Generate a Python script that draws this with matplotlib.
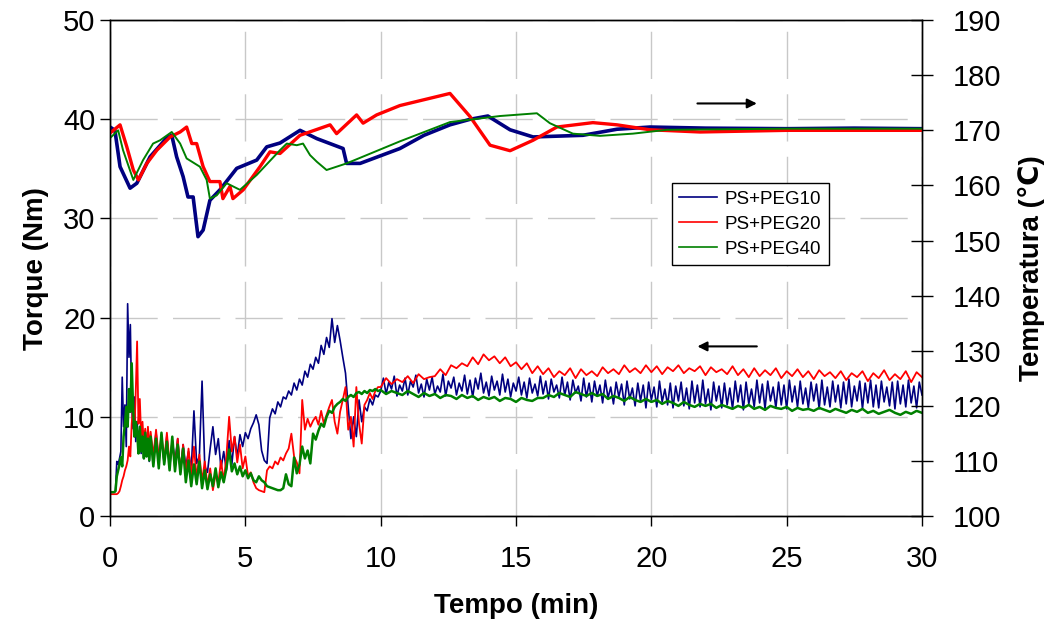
import numpy as np
import matplotlib
matplotlib.use("Agg")
from matplotlib import pyplot as plt

plt.rcParams["font.family"] = ["Liberation Sans", "DejaVu Sans"]

# ---- torque data (left axis), sampled on time grids ----
t_early = np.round(np.arange(0.0, 1.5, 0.05), 2)        # 0.00 .. 1.45
t_mid = np.round(np.arange(1.5, 9.95, 0.1), 2)          # 1.5 .. 9.9
t_late = np.round(np.arange(10.0, 30.01, 0.2), 2)       # 10.0 .. 30.0
t_late_fine = np.round(np.arange(10.0, 30.01, 0.1), 2)  # 10.0 .. 30.0 (PEG10 is noisier)

torque_peg10 = [
    2.4, 2.4, 2.4, 2.4, 2.5, 5.5, 5.2, 5.8, 6.5, 14.0,
    9.0, 11.2, 7.0, 21.4, 16.0, 19.3, 11.0, 8.8, 12.0, 7.5,
    9.5, 6.8, 8.9, 6.3, 8.5, 5.8, 8.6, 6.0, 8.2, 5.5,
    # 1.5 - 9.9
    8.0, 6.0, 8.4, 5.6, 7.9, 5.2, 8.1, 4.8, 7.6, 5.5,
    7.8, 4.4, 7.2, 5.0, 6.5, 4.6, 10.6, 5.3, 6.0, 13.6,
    5.0, 4.4, 6.8, 9.0, 6.2, 7.8, 4.8, 6.5, 4.6, 7.6,
    5.2, 8.0, 6.0, 8.2, 7.0, 8.4, 7.8, 8.8, 9.4, 10.2,
    9.2, 6.6, 5.6, 5.3, 9.9, 10.8, 10.3, 11.5, 11.0, 12.0,
    11.8, 12.6, 12.2, 13.4, 12.7, 13.8, 13.2, 14.6, 14.0, 15.3,
    14.8, 16.0, 15.4, 17.2, 16.3, 18.0, 17.0, 19.9, 17.5, 19.2,
    17.7, 16.0, 14.4, 11.0, 7.8, 10.0, 8.0, 11.7, 9.5, 11.0,
    10.6, 11.8, 11.2, 12.2, 12.0,
    # 10.0 - 30.0 (step 0.1)
    12.6, 13.9, 12.3, 13.5, 12.8, 14.1, 12.1, 13.2, 12.6, 13.9,
    12.2, 13.6, 13.0, 14.2, 12.4, 13.3, 12.0, 13.8, 12.7, 14.0,
    12.3, 13.1, 12.5, 14.3, 12.1, 13.6, 12.9, 14.0, 12.2, 13.4,
    12.6, 14.2, 12.3, 13.7, 12.0, 13.9, 12.8, 14.4, 12.4, 13.5,
    12.1, 14.1, 12.7, 13.6, 12.2, 14.3, 12.5, 13.8, 12.0, 13.4,
    12.6, 14.0, 12.2, 13.5, 11.9, 13.9, 12.4, 13.3, 12.1, 14.1,
    12.3, 13.6, 11.8, 13.8, 12.5, 13.2, 11.9, 14.0, 12.2, 13.5,
    11.7, 13.7, 12.4, 13.1, 11.6, 13.9, 12.0, 13.4, 11.5, 13.6,
    12.1, 13.2, 11.4, 13.7, 11.9, 13.0, 11.3, 13.5, 12.0, 13.3,
    11.2, 13.6, 11.8, 12.9, 11.1, 13.4, 11.6, 13.2, 10.9, 13.5,
    11.7, 13.0, 11.0, 13.6, 11.5, 12.8, 11.2, 13.4, 10.9, 13.1,
    11.6, 13.5, 11.1, 12.9, 10.8, 13.6, 11.4, 13.2, 11.0, 13.7,
    11.3, 12.8, 10.7, 13.5, 11.6, 13.1, 10.9, 13.4, 11.2, 12.9,
    10.8, 13.6, 11.5, 13.2, 10.7, 13.5, 11.3, 12.8, 11.0, 13.7,
    11.4, 13.3, 10.8, 13.6, 11.6, 13.0, 10.9, 13.5, 11.2, 13.2,
    10.8, 13.7, 11.5, 13.1, 11.0, 13.6, 11.3, 12.9, 10.9, 13.5,
    11.6, 13.3, 10.8, 13.7, 11.2, 13.0, 11.0, 13.6, 11.5, 13.2,
    10.9, 13.5, 11.3, 13.8, 11.0, 13.1, 11.6, 13.6, 10.8, 13.4,
    11.4, 13.7, 11.0, 13.2, 10.9, 13.6, 11.5, 13.0, 11.1, 13.5,
    10.8, 13.6, 11.3, 13.2, 11.0, 13.7, 11.4, 13.1, 10.9, 13.5,
    12.2,
]

torque_peg20 = [
    2.2, 2.2, 2.2, 2.2, 2.2, 2.2, 2.3, 2.5, 3.0, 3.6,
    4.0, 4.6, 5.0, 5.6, 7.0, 6.0, 9.3, 11.0, 8.5, 12.5,
    17.6, 9.3, 11.8, 8.0, 9.5, 7.2, 8.8, 6.5, 9.0, 6.8,
    # 1.5 - 9.9
    8.5, 6.0, 8.7, 5.8, 8.2, 5.5, 8.4, 5.2, 7.6, 4.8,
    7.8, 4.5, 7.2, 4.2, 6.8, 4.0, 7.0, 3.8, 6.2, 3.5,
    5.5, 3.0, 4.8, 2.6, 4.2, 3.3, 5.6, 3.5, 6.0, 10.0,
    6.5, 8.0, 5.4, 7.2, 4.8, 6.0, 4.0, 4.4, 3.4, 2.8,
    2.6, 2.5, 2.4, 4.6, 5.0, 4.8, 5.5, 5.2, 5.9, 5.6,
    6.3, 6.8, 8.3, 6.0, 5.4, 4.3, 11.7, 8.7, 9.8, 9.0,
    9.6, 10.0, 9.2, 10.6, 9.3, 10.2, 11.0, 11.7, 9.5, 8.3,
    10.5, 11.7, 13.0, 8.7, 10.0, 7.0, 13.0, 9.3, 7.3, 11.2,
    11.7, 12.4, 11.8, 12.6, 13.0,
    # 10.0 - 30.0 (step 0.2)
    13.0, 13.9, 13.3, 13.8, 13.5, 14.1, 13.4, 14.3, 13.8, 14.0,
    14.1, 14.8, 14.2, 15.2, 14.9, 15.4, 15.1, 16.0, 15.3, 16.3,
    15.7, 16.1, 15.4, 16.0, 15.1, 15.5, 14.8, 15.4, 14.4, 15.1,
    14.3, 14.9, 14.0, 14.6, 14.2, 14.9, 13.9, 14.8, 14.2, 14.6,
    14.1, 15.0, 14.4, 14.8, 14.3, 15.2, 14.5, 14.9, 14.4, 15.2,
    14.5, 15.1, 14.3, 15.0, 14.6, 15.2, 14.4, 14.9, 14.6, 15.1,
    14.2, 15.0, 14.5, 14.8, 14.3, 15.1, 14.2, 14.8, 14.0, 14.9,
    14.1, 14.7, 14.2, 14.9, 13.9, 14.6, 14.1, 14.8, 14.0, 14.6,
    13.8, 14.7, 14.1, 14.5, 13.9, 14.6, 13.7, 14.4, 14.0, 14.6,
    13.6, 14.4, 13.9, 14.7, 13.7, 14.3, 13.8, 14.6, 13.5, 14.5,
    14.0,
]

torque_peg40 = [
    2.4, 2.4, 2.4, 2.4, 2.5, 4.0, 4.6, 5.2, 5.9, 5.0,
    8.0, 9.3, 11.0, 9.0, 12.8, 10.5, 15.4, 11.0, 8.0, 9.5,
    8.5, 6.3, 9.0, 6.5, 8.0, 5.8, 8.4, 6.0, 7.8, 5.6,
    # 1.5 - 9.9
    8.0, 5.0, 7.8, 4.8, 8.4, 5.2, 7.5, 4.6, 8.0, 4.5,
    7.2, 4.2, 6.8, 3.4, 5.6, 3.0, 5.2, 3.2, 5.5, 2.8,
    4.6, 2.7, 4.2, 3.0, 4.8, 2.9, 4.4, 3.4, 4.8, 6.7,
    4.5, 5.3, 4.2, 5.0, 4.0, 4.6, 3.8, 4.3, 3.6, 3.4,
    4.0, 3.6, 3.4, 3.0, 2.9, 2.8, 2.7, 2.6, 2.6, 2.8,
    4.2, 3.2, 3.0, 5.9, 4.3, 5.2, 7.0, 5.8, 6.6, 5.3,
    8.3, 7.7, 8.6, 9.3, 9.0, 10.0, 10.6, 10.4, 11.0, 11.3,
    11.5, 11.8, 11.6, 12.0, 12.2, 12.0, 12.4, 12.5, 12.3, 12.6,
    12.4, 12.7, 12.6, 12.8, 12.6,
    # 10.0 - 30.0 (step 0.2)
    12.7, 12.3, 12.6, 12.4, 12.2, 12.6, 12.3, 12.0, 12.4, 12.1,
    12.3, 11.9, 12.2, 12.1, 11.8, 12.2, 11.9, 12.1, 11.7, 12.0,
    11.8, 12.0, 11.6, 11.9, 11.8, 11.5, 11.9, 11.7, 11.6, 11.9,
    11.9, 12.2, 12.0, 12.4, 12.2, 12.0, 12.5, 12.3, 12.1, 12.4,
    12.1, 12.3, 11.8, 12.1, 11.9, 11.6, 12.0, 11.7, 11.5, 11.8,
    11.5, 11.7, 11.3, 11.6, 11.4, 11.1, 11.5, 11.2, 11.0, 11.3,
    11.1, 11.3, 10.9, 11.2, 11.0, 10.8, 11.1, 10.9, 11.2, 10.8,
    11.0, 10.7, 11.1, 10.9, 10.8, 11.0, 10.6, 10.9, 10.7, 10.8,
    10.6, 10.9, 10.7, 10.5, 10.8, 10.6, 10.4, 10.7, 10.5, 10.8,
    10.4, 10.6, 10.3, 10.5, 10.7, 10.4, 10.2, 10.5, 10.3, 10.6,
    10.4,
]

# ---- temperature data (right axis) ----
t_temp_peg10 = [0, 0.18, 0.37, 0.74, 0.99, 1.48, 2.09, 2.28, 2.46, 2.70,
                2.88, 3.07, 3.25, 3.44, 3.69, 4.06, 4.68, 5.42, 5.79, 6.28,
                7.02, 7.64, 8.61, 8.74, 9.24, 10.71, 11.6, 12.56, 13.3, 13.96,
                14.78, 15.63, 17.47, 18.73, 19.95, 22, 25, 27.5, 30]
temp_peg10 = [170.6, 170.0, 163.4, 159.5, 160.4, 165.2, 168.6, 169.1, 165.2, 161.6,
              157.9, 157.9, 150.7, 151.9, 157.3, 159.2, 163.1, 164.6, 167.0, 167.7,
              170.0, 168.5, 166.7, 164.0, 164.0, 166.7, 169.1, 171.0, 172.0, 172.6,
              170.1, 168.8, 169.1, 170.2, 170.6, 170.4, 170.3, 170.4, 170.3]

t_temp_peg20 = [0, 0.37, 0.62, 0.86, 1.05, 1.36, 1.73, 2.22, 2.59, 2.83,
                3.02, 3.20, 3.44, 3.69, 4.06, 4.17, 4.43, 4.54, 4.92, 5.54,
                5.91, 6.28, 7.02, 8.13, 8.37, 9.11, 9.35, 9.85, 10.71, 12.56,
                13.30, 14.04, 14.78, 15.63, 16.51, 17.84, 18.73, 19.95, 21.80, 25, 30]
temp_peg20 = [169.5, 171.0, 167.0, 162.8, 161.0, 164.0, 166.4, 168.8, 169.7, 170.6,
              167.6, 167.6, 163.4, 160.7, 160.7, 157.6, 159.8, 157.6, 159.2, 163.4,
              166.1, 165.8, 169.1, 171.0, 169.4, 172.8, 171.3, 172.8, 174.5, 176.7,
              172.5, 167.3, 166.3, 168.2, 170.6, 171.4, 171.0, 170.1, 169.7, 170.0, 170.0]

t_temp_peg40 = [0, 0.30, 0.48, 0.86, 1.22, 1.59, 1.85, 2.28, 2.59, 2.83,
                3.32, 3.57, 3.69, 3.94, 4.31, 4.80, 5.42, 6.28, 6.53, 6.90,
                7.13, 7.39, 7.64, 8.00, 8.74, 10.71, 12.56, 14.41, 15.77, 16.25,
                17.10, 18.10, 19.32, 20.58, 25, 30]
temp_peg40 = [168.6, 170.0, 166.4, 161.0, 164.6, 167.6, 168.2, 169.7, 167.6, 164.9,
              163.4, 161.0, 157.6, 158.2, 160.4, 159.2, 161.9, 166.4, 167.6, 167.3,
              167.6, 165.5, 164.3, 162.8, 164.0, 168.0, 171.5, 172.6, 173.1, 171.3,
              169.4, 169.0, 169.4, 170.1, 170.3, 170.3]

labels = ["PS+PEG10", "PS+PEG20", "PS+PEG40"]
colors = ["#000080", "#FF0000", "#008000"]

t_torque = np.concatenate([t_early, t_mid, t_late])
t_torque_fine = np.concatenate([t_early, t_mid, t_late_fine])

# ----------------------------------------------------- #

fig = plt.figure(figsize=(10.5, 6.3), dpi=100)
ax = fig.add_axes([0.1048, 0.181, 0.7733, 0.787])
ax2 = ax.twinx()

grid_style = dict(color="#c8c8c8", linewidth=1.0, linestyle=(0, (34, 11)))
ax.grid(True, **grid_style)
ax.set_axisbelow(True)

torque_sets = [(t_torque_fine, torque_peg10), (t_torque, torque_peg20), (t_torque, torque_peg40)]
torque_lw = [1.2, 1.3, 1.8]
for (tt, vals), c, lab, lw in zip(torque_sets, colors, labels, torque_lw):
    ax.plot(tt, vals, color=c, lw=lw, label=lab)

temp_lw = [2.6, 2.4, 1.4]
temps = [(t_temp_peg10, temp_peg10), (t_temp_peg20, temp_peg20), (t_temp_peg40, temp_peg40)]
for (tt, vv), c, lw in zip(temps, colors, temp_lw):
    ax2.plot(tt, vv, color=c, lw=lw)

ax.set_xlim(0, 30)
ax.set_ylim(0, 50)
ax2.set_ylim(100, 190)
ax.set_xticks(np.arange(0, 31, 5))
ax.set_yticks(np.arange(0, 51, 10))
ax2.set_yticks(np.arange(100, 191, 10))

ax.tick_params(axis="both", labelsize=21, direction="out", length=7, width=1)
ax.tick_params(axis="x", pad=14)
ax2.tick_params(axis="y", labelsize=21, direction="inout", length=16, width=1, pad=14)

ax.set_xlabel("Tempo (min)", fontsize=20, fontweight="bold", labelpad=14)
ax.set_ylabel("Torque (Nm)", fontsize=20, fontweight="bold", labelpad=10)
ax2.set_ylabel("Temperatura (\u2103)", fontsize=20, fontweight="bold", labelpad=12)

for a in (ax, ax2):
    for s in a.spines.values():
        s.set_color("black")
        s.set_linewidth(1.0)

# direction arrows
ax.annotate("", xy=(24.0, 41.6), xytext=(21.6, 41.6),
            arrowprops=dict(arrowstyle="-|>", color="black", lw=1.5, mutation_scale=14))
ax.annotate("", xy=(21.6, 17.1), xytext=(24.0, 17.1),
            arrowprops=dict(arrowstyle="-|>", color="black", lw=1.5, mutation_scale=14))

handles, labs = ax.get_legend_handles_labels()
leg = ax2.legend(handles, labs, loc="upper left", bbox_to_anchor=(0.692, 0.671),
                 fontsize=13.5, frameon=True, fancybox=False, framealpha=1,
                 edgecolor="black", handlelength=2.0, handletextpad=0.4,
                 borderpad=0.4, labelspacing=0.42, borderaxespad=0)
leg.get_frame().set_linewidth(1.0)
for h in leg.get_lines():
    h.set_linewidth(1.2)

fig.savefig("out.png", dpi=100)
